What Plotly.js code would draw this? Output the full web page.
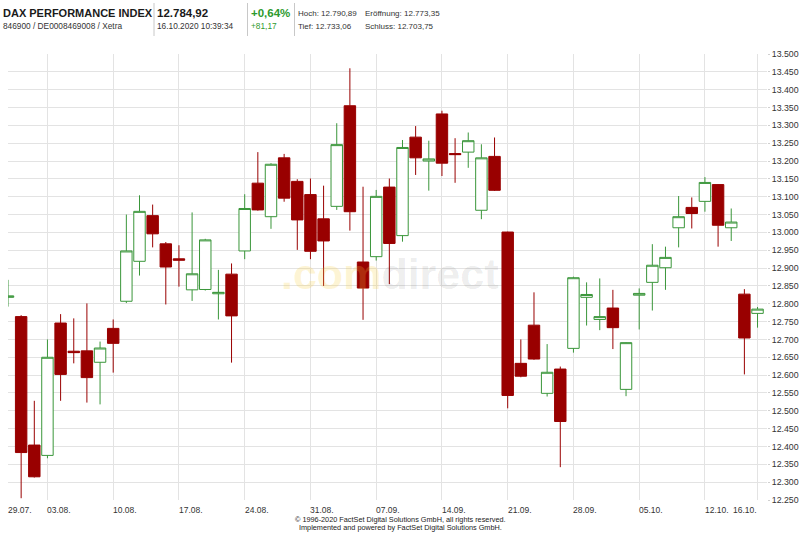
<!DOCTYPE html>
<html>
<head>
<meta charset="utf-8">
<script src="https://cdn.plot.ly/plotly-3.0.1.min.js"></script>
<style>html,body{margin:0;padding:0;background:#fff;}#chart{width:800px;height:533px;}</style>
</head>
<body>
<div id="chart"></div>
<script>
// ---- data ----
const dates = ["29.07.2020","30.07.2020","31.07.2020","03.08.2020","04.08.2020","05.08.2020","06.08.2020","07.08.2020",
  "10.08.2020","11.08.2020","12.08.2020","13.08.2020","14.08.2020","17.08.2020","18.08.2020","19.08.2020","20.08.2020","21.08.2020",
  "24.08.2020","25.08.2020","26.08.2020","27.08.2020","28.08.2020","31.08.2020","01.09.2020","02.09.2020","03.09.2020","04.09.2020",
  "07.09.2020","08.09.2020","09.09.2020","10.09.2020","11.09.2020","14.09.2020","15.09.2020","16.09.2020","17.09.2020","18.09.2020",
  "21.09.2020","22.09.2020","23.09.2020","24.09.2020","25.09.2020","28.09.2020","29.09.2020","30.09.2020","01.10.2020","02.10.2020",
  "05.10.2020","06.10.2020","07.10.2020","08.10.2020","09.10.2020","12.10.2020","13.10.2020","14.10.2020","15.10.2020","16.10.2020"];
const open  = [12818,12764,12404,12375,12746,12667,12668,12636,12731,12807,12919,13047,12968,12926,12839,12840,12828,12883,
  12948,13138,13044,13209,13143,13106,13038,13073,13355,12917,12932,13127,12991,13267,13200,13332,13221,13225,13062,13213,
  13001,12633,12740,12549,12617,12675,12818,12756,12788,12560,12824,12860,12901,13013,13070,13087,13134,13013,12827,12773];
const high  = [12867,12768,12528,12700,12771,12759,12801,12694,12756,13050,13104,13078,12973,12964,13056,12982,12895,12913,
  13107,13225,13194,13220,13149,13151,13131,13306,13460,13128,13119,13151,13259,13298,13257,13341,13264,13280,13247,13266,
  13002,12700,12832,12687,12624,12876,12860,12871,12839,12692,12843,12967,12960,13102,13098,13155,13135,13067,12841,12791];
const low   = [12792,12255,12313,12367,12528,12633,12523,12518,12607,12802,12879,12958,12798,12848,12808,12837,12756,12635,
  12925,13061,13010,13086,12951,12925,12850,13063,13005,12755,12921,12855,12974,13161,13117,13158,13139,13181,13037,13116,
  12507,12594,12643,12540,12342,12663,12739,12726,12673,12541,12728,12781,12839,12958,13011,13058,12960,12976,12602,12733];
const close = [12822,12383,12315,12650,12602,12663,12593,12676,12689,12948,13059,12996,12903,12922,12884,12979,12832,12766,
  13067,13063,13191,13096,13035,12947,12976,13246,13058,12844,13101,12969,13238,13209,13206,13194,13218,13257,13209,13118,
  12543,12597,12645,12608,12470,12873,12826,12764,12733,12691,12829,12908,12930,13044,13053,13140,13020,13029,12704,12785];

const tickDates  = ["29.07.2020","03.08.2020","10.08.2020","17.08.2020","24.08.2020","31.08.2020","07.09.2020",
  "14.09.2020","21.09.2020","28.09.2020","05.10.2020","12.10.2020","16.10.2020"];
const tickLabels = ["29.07.","03.08.","10.08.","17.08.","24.08.","31.08.","07.09.","14.09.","21.09.","28.09.","05.10.","12.10.","16.10."];

const title = "DAX PERFORMANCE INDEX";
const subtitle = "846900 / DE0008469008 / Xetra";
const lastPrice = "12.784,92";
const stamp = "16.10.2020 10:39:34";
const pctChange = "+0,64%";
const absChange = "+81,17";
const stats = ["Hoch: 12.790,89","Eröffnung: 12.773,35","Tief: 12.733,06","Schluss: 12.703,75"];
const footer = ["© 1996-2020 FactSet Digital Solutions GmbH, all rights reserved.",
  "Implemented and powered by FactSet Digital Solutions GmbH."];

// ---- layout helpers ----
const W = 800, H = 533, ML = 8, MR = 33, MT = 54, MB = 33;
const PW = W - ML - MR, PH = H - MT - MB;
const px = x => (x - ML) / PW;
const py = y => (H - MB - y) / PH;
const FONT = "Liberation Sans, Arial, sans-serif";
const RED = "#990000", GREEN = "#3a963a";

const trace = {
  type: "candlestick",
  x: dates, open: open, high: high, low: low, close: close,
  increasing: {line: {color: GREEN, width: 1}, fillcolor: "#ffffff"},
  decreasing: {line: {color: RED, width: 1}, fillcolor: RED},
  whiskerwidth: 0,
  hoverinfo: "none",
  showlegend: false
};

const ann = [];
function txt(x, y, text, size, color, extra) {
  ann.push(Object.assign({xref: "paper", yref: "paper", x: px(x), y: py(y), text: text, showarrow: false,
    xanchor: "left", yanchor: "middle", font: {family: FONT, size: size, color: color}}, extra || {}));
}
txt(1, 13, "<b>" + title + "</b>", 11, "#1a1a1a");
txt(1, 26, subtitle, 8.3, "#333");
txt(155, 13, "<b>" + lastPrice + "</b>", 11.5, "#1a1a1a");
txt(155, 26, stamp, 8.3, "#333");
txt(249, 13, "<b>" + pctChange + "</b>", 11.5, "#2e9a2e");
txt(249, 26, absChange, 8.3, "#2e9a2e");
txt(296, 14, stats[0], 8, "#333");
txt(363, 14, stats[1], 8, "#333");
txt(296, 27, stats[2], 8, "#333");
txt(363, 27, stats[3], 8, "#333");
const FF = {family: "Liberation Sans Narrow, Arial Narrow, " + FONT, size: 7.3, color: "#222222"};
txt(400, 519.5, footer[0], 7.3, "#222", {xanchor: "center", font: FF});
txt(400, 527.5, footer[1], 7.3, "#222", {xanchor: "center", font: FF});
// watermark
txt(389, 274, "<b><span style='color:rgba(250,205,60,0.22)'>.com</span><span style='color:rgba(0,0,0,0.085)'>direct</span></b>",
  43, "#ddd", {xanchor: "center"});
// x tick labels
tickDates.forEach((d, i) => {
  ann.push({xref: "x", yref: "paper", x: d, y: py(510), text: tickLabels[i], showarrow: false,
    xanchor: i === tickDates.length - 1 ? "right" : "left", yanchor: "middle", xshift: i === tickDates.length - 1 ? 1 : -2,
    font: {family: FONT, size: 8.5, color: "#333"}});
});

const shapes = [154, 247.5, 294.5].map(x => ({type: "line", xref: "paper", yref: "paper",
  x0: px(x), x1: px(x), y0: py(3), y1: py(36), line: {color: "#c8c8c8", width: 1}}));

const layout = {
  width: W, height: H,
  margin: {l: ML, r: MR, t: MT, b: MB, pad: 0},
  paper_bgcolor: "#fff", plot_bgcolor: "#fff",
  separators: ",.",
  boxgap: 0.13, boxgroupgap: 0,
  showlegend: false,
  xaxis: {type: "category", categoryorder: "array", categoryarray: dates, range: [0, 57.72],
    tickmode: "array", tickvals: tickDates, ticktext: tickLabels, showticklabels: false,
    showgrid: true, gridcolor: "#e3e3e3", gridwidth: 1, zeroline: false, showline: false, ticks: "",
    rangeslider: {visible: false}, fixedrange: true},
  yaxis: {side: "right", range: [12250, 13500], tick0: 12250, dtick: 50, tickformat: ",.0f",
    showgrid: true, gridcolor: "#e3e3e3", gridwidth: 1, zeroline: false, showline: false,
    ticks: "outside", ticklen: 2, tickcolor: "#d0d0d0", ticklabelstandoff: 0,
    tickfont: {family: FONT, size: 8.8, color: "#333"}, fixedrange: true},
  annotations: ann,
  shapes: shapes
};

Plotly.newPlot("chart", [trace], layout, {displayModeBar: false, staticPlot: true});
</script>
</body>
</html>
